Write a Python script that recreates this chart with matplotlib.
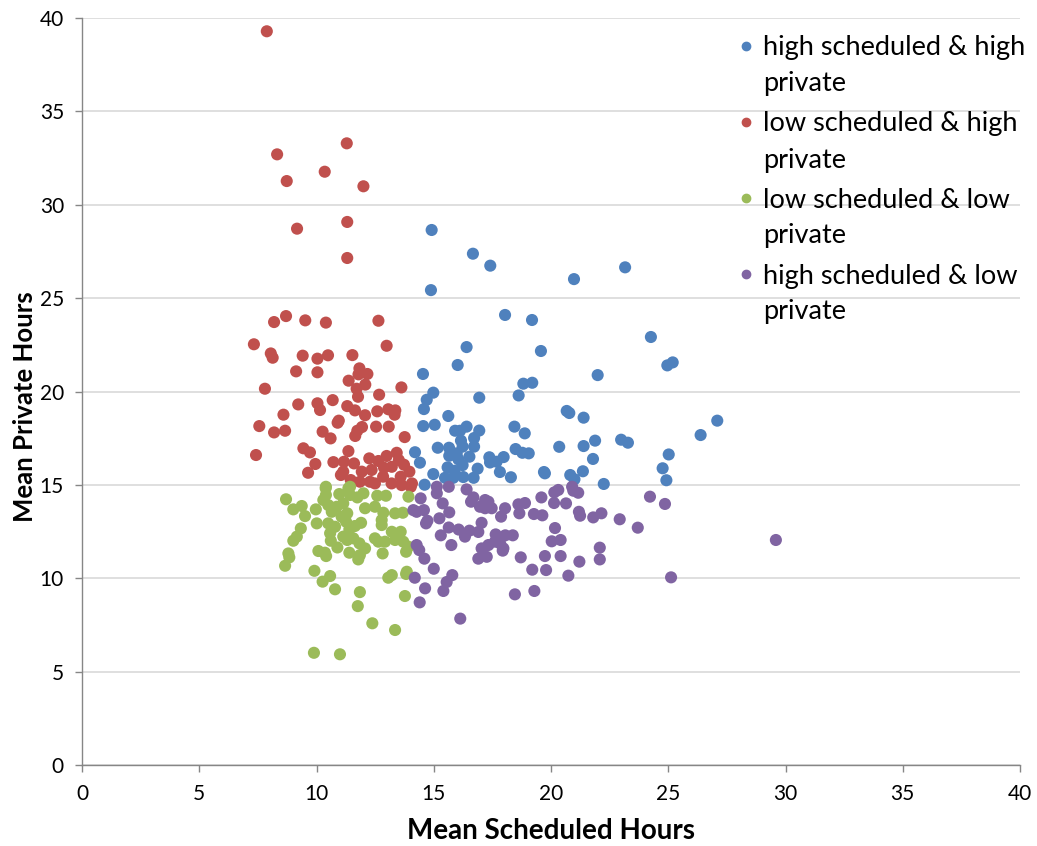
import matplotlib.pyplot as plt

plt.rcParams['font.family'] = ['Lato', 'DejaVu Sans']

# high scheduled & high private
blue_x = [14.91, 14.88, 16.67, 17.41, 20.98, 23.16, 18.04, 19.19, 24.26, 16.40,
          19.57, 16.02, 24.96, 25.19, 14.54, 21.99, 18.82, 19.20, 14.98, 14.70,
          14.58, 16.94, 18.62, 20.67, 20.78, 21.39, 27.09, 15.62, 14.55, 15.04,
          15.91, 16.12, 16.40, 16.94, 18.44, 18.88, 26.38, 21.88, 22.99, 23.28,
          16.16, 16.72, 16.23, 16.72, 14.20, 14.41, 15.17, 15.65, 15.66, 15.98,
          16.05, 16.52, 18.49, 18.78, 19.05, 20.35, 21.39, 25.02, 17.37, 17.40,
          17.68, 17.98, 21.79, 15.59, 15.89, 16.23, 16.87, 17.82, 18.29, 19.70,
          19.74, 20.82, 21.00, 21.36, 24.76, 24.92, 14.98, 15.48, 15.83, 16.26,
          16.70, 14.61, 22.25]
blue_y = [28.65, 25.43, 27.38, 26.74, 26.02, 26.65, 24.10, 23.83, 22.92, 22.38,
          22.17, 21.42, 21.40, 21.56, 20.94, 20.88, 20.42, 20.47, 19.94, 19.56,
          19.06, 19.67, 19.79, 18.96, 18.85, 18.60, 18.44, 18.69, 18.15, 18.22,
          17.90, 17.90, 18.12, 17.91, 18.12, 17.76, 17.67, 17.37, 17.42, 17.26,
          17.37, 17.51, 17.05, 17.05, 16.75, 16.19, 16.99, 16.99, 16.56, 16.69,
          16.37, 16.51, 16.92, 16.72, 16.69, 17.04, 17.08, 16.63, 16.48, 16.20,
          16.24, 16.49, 16.39, 15.94, 15.76, 16.06, 15.87, 15.69, 15.41, 15.69,
          15.62, 15.53, 15.30, 15.73, 15.89, 15.25, 15.58, 15.38, 15.38, 15.42,
          15.38, 15.01, 15.05]

# low scheduled & high private
red_x = [7.88, 11.29, 8.32, 10.35, 8.73, 12.00, 11.31, 9.17, 11.31, 8.19,
         8.70, 9.52, 10.40, 12.64, 7.33, 12.99, 8.05, 8.13, 9.41, 10.04,
         10.49, 11.53, 9.13, 10.04, 11.83, 11.79, 12.17, 11.37, 12.08, 13.62,
         7.80, 11.71, 11.77, 12.67, 9.22, 10.04, 10.15, 10.69, 11.31, 11.64,
         8.59, 12.07, 12.59, 13.06, 13.36, 13.33, 10.95, 10.90, 7.56, 8.19,
         8.66, 10.26, 11.94, 11.74, 11.65, 12.54, 13.08, 10.60, 13.76, 7.42,
         9.44, 9.72, 11.36, 9.95, 9.64, 10.72, 11.17, 11.60, 11.14, 11.04,
         12.25, 12.64, 12.99, 13.42, 13.51, 13.73, 11.93, 12.35, 12.88, 13.21,
         13.96, 11.46, 11.85, 12.28, 12.49, 12.84, 13.20, 13.59, 13.63, 14.07,
         14.02]
red_y = [39.29, 33.29, 32.70, 31.77, 31.27, 30.99, 29.08, 28.72, 27.15, 23.72,
         24.04, 23.81, 23.69, 23.79, 22.53, 22.45, 22.04, 21.81, 21.92, 21.76,
         21.94, 21.95, 21.08, 21.03, 21.24, 20.92, 20.94, 20.58, 20.37, 20.22,
         20.15, 20.15, 19.72, 19.83, 19.31, 19.37, 19.01, 19.54, 19.22, 18.99,
         18.76, 18.73, 18.94, 19.05, 18.99, 18.76, 18.44, 18.33, 18.15, 17.81,
         17.90, 17.85, 18.10, 17.90, 17.62, 18.12, 18.12, 17.49, 17.56, 16.60,
         16.96, 16.74, 16.81, 16.12, 15.65, 16.22, 16.24, 16.15, 15.71, 15.53,
         16.42, 16.28, 16.55, 16.72, 16.33, 16.08, 15.71, 15.80, 15.92, 15.97,
         15.71, 15.26, 15.17, 15.17, 15.08, 15.44, 15.08, 15.44, 14.99, 15.08,
         14.90]

# low scheduled & low private
green_x = [10.39, 8.70, 10.97, 11.36, 11.43, 12.00, 11.74, 12.59, 12.96, 13.92,
           9.01, 9.37, 9.51, 9.97, 10.29, 10.50, 10.65, 10.86, 11.14, 11.31,
           11.07, 12.07, 12.49, 12.85, 12.78, 13.35, 13.68, 10.01, 10.50, 10.79,
           11.26, 11.40, 11.64, 11.90, 12.78, 9.33, 9.16, 9.01, 10.58, 10.61,
           11.14, 11.31, 11.57, 11.83, 12.07, 12.49, 12.64, 12.92, 13.21, 13.35,
           13.59, 13.70, 10.89, 11.40, 11.78, 11.85, 12.82, 13.82, 13.92, 8.80,
           8.84, 8.66, 10.08, 10.41, 10.36, 9.91, 10.26, 10.58, 10.79, 11.85,
           11.76, 13.06, 13.21, 13.82, 13.85, 13.77, 12.38, 13.35, 9.89, 11.00,
           10.40, 10.40, 11.43]
green_y = [14.82, 14.23, 14.51, 14.82, 14.46, 14.55, 14.33, 14.42, 14.42, 14.37,
           13.69, 13.87, 13.33, 13.69, 14.19, 13.92, 13.56, 13.83, 14.01, 13.48,
           13.30, 13.75, 13.83, 13.51, 13.12, 13.48, 13.51, 12.94, 12.94, 12.76,
           13.03, 12.62, 12.80, 12.97, 12.85, 12.67, 12.23, 12.01, 12.41, 12.01,
           12.23, 12.05, 12.14, 11.87, 11.60, 12.14, 11.96, 11.96, 12.49, 12.05,
           12.49, 11.96, 11.65, 11.37, 11.01, 11.24, 11.33, 11.42, 11.69, 11.33,
           11.12, 10.67, 11.46, 11.19, 11.37, 10.40, 9.82, 10.12, 9.41, 9.26,
           8.51, 10.03, 10.17, 10.23, 10.35, 9.05, 7.59, 7.23, 6.01, 5.93,
           14.90, 14.46, 14.90]

# high scheduled & low private
purple_x = [20.90, 20.95, 21.16, 20.14, 20.31, 19.59, 24.22, 24.86, 20.13, 20.64,
            18.61, 18.89, 14.44, 15.13, 15.13, 15.64, 16.40, 16.69, 16.59, 17.19,
            17.33, 16.97, 17.19, 17.47, 18.04, 15.38, 14.13, 14.27, 14.58, 15.66,
            17.87, 18.65, 19.27, 19.63, 21.19, 21.24, 21.80, 22.15, 22.93, 23.70,
            14.73, 14.67, 15.24, 17.04, 15.64, 16.06, 16.33, 16.52, 16.90, 15.30,
            17.64, 18.05, 18.37, 20.17, 20.03, 20.41, 29.59, 14.27, 14.38, 14.60,
            15.75, 17.04, 17.33, 17.61, 17.83, 17.97, 22.08, 22.08, 16.90, 17.26,
            17.94, 18.71, 19.74, 20.41, 21.21, 15.00, 19.20, 19.79, 20.74, 25.12,
            14.19, 15.79, 15.55, 15.41, 14.63, 14.40, 18.46, 19.29, 16.13]
purple_y = [14.90, 14.69, 14.58, 14.60, 14.73, 14.33, 14.37, 13.98, 14.03, 14.01,
            13.96, 14.03, 14.28, 14.90, 14.55, 14.90, 14.76, 14.33, 14.10, 14.19,
            14.10, 13.83, 13.75, 13.75, 13.75, 14.01, 13.65, 13.56, 13.65, 13.53,
            13.30, 13.48, 13.44, 13.37, 13.56, 13.35, 13.26, 13.48, 13.16, 12.71,
            13.08, 12.94, 13.21, 12.97, 12.72, 12.61, 12.23, 12.55, 12.48, 12.30,
            12.35, 12.30, 12.30, 12.69, 11.98, 12.05, 12.05, 11.78, 11.51, 11.05,
            11.78, 11.60, 11.78, 11.96, 11.87, 11.60, 11.64, 11.01, 11.05, 11.15,
            11.48, 11.12, 11.19, 11.19, 10.89, 10.51, 10.46, 10.44, 10.14, 10.05,
            10.03, 10.17, 9.80, 9.32, 9.46, 8.71, 9.14, 9.32, 7.84]

labels = ["high scheduled & high\nprivate", "low scheduled & high\nprivate",
          "low scheduled & low\nprivate", "high scheduled & low\nprivate"]
colors = ["#4F81BD", "#C0504D", "#9BBB59", "#8064A2"]
series = [(blue_x, blue_y), (red_x, red_y), (green_x, green_y), (purple_x, purple_y)]

fig = plt.figure(figsize=(10.37, 8.46), dpi=100)
ax = fig.add_axes([0.0791, 0.0957, 0.9045, 0.883])

for (xs, ys), color in zip(series, colors):
    ax.scatter(xs, ys, s=76, color=color, edgecolors='none', zorder=3)

ax.set_xlim(0, 40)
ax.set_ylim(0, 40)
ax.set_xticks(range(0, 41, 5))
ax.set_yticks(range(0, 41, 5))
ax.grid(axis='y', color='#D9D9D9', linewidth=1.2)
ax.set_axisbelow(True)
for side in ['top', 'right']:
    ax.spines[side].set_visible(False)
for side in ['left', 'bottom']:
    ax.spines[side].set_color('#868686')
    ax.spines[side].set_linewidth(1.0)
ax.tick_params(colors='#868686', labelcolor='black', labelsize=15, length=5, width=1)
ax.tick_params(axis='x', pad=9)
ax.tick_params(axis='y', pad=8)

ax.set_xlabel("Mean Scheduled Hours", fontsize=20, fontweight='bold', labelpad=10)
ax.set_ylabel("Mean Private Hours", fontsize=18.5, fontweight='bold')
ax.yaxis.set_label_coords(-0.048, 0.48)

# legend drawn by hand so the marker sits on the first line of each label
W, H = 1037, 846
for i, (label, color) in enumerate(zip(labels, colors)):
    top = 48 + 76 * i
    fig.lines.append(plt.Line2D([746 / W], [1 - (top - 2) / H], marker='o', markersize=6,
                                color=color, linestyle='none', transform=fig.transFigure))
    for j, line in enumerate(label.split("\n")):
        fig.text(763 / W, 1 - (top + 36 * j) / H, line, fontsize=19.5, va='center', ha='left')

plt.savefig("out.png", dpi=100)
